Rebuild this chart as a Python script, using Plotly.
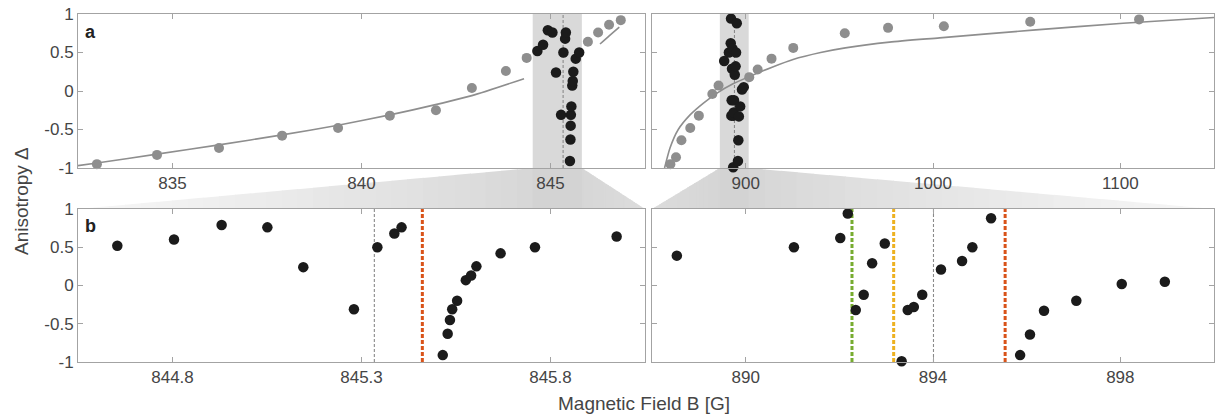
import plotly.graph_objects as go
import numpy as np

# ---------------- data ----------------
# panel a, left: broad scan (grey points) and model curve
scanL_x = [833.0, 834.59, 836.23, 837.9, 839.38, 840.75, 841.97, 842.92, 843.82, 844.37,
           845.99, 846.26, 846.55, 846.86]
scanL_y = [-0.95, -0.83, -0.74, -0.58, -0.48, -0.32, -0.25, 0.04, 0.26, 0.43,
           0.64, 0.76, 0.86, 0.92]
fitL1_x = [832.5, 833.0, 834.59, 836.23, 837.9, 839.38, 840.75, 841.36, 842.92, 844.3]
fitL1_y = [-0.97, -0.935, -0.82, -0.70, -0.57, -0.445, -0.31, -0.245, -0.06, 0.16]
fitL2_x = [846.31, 846.56, 846.82]
fitL2_y = [0.61, 0.72, 0.83]

# panel a, right
scanR_x = [859.8, 862.8, 865.7, 870.4, 875.0, 882.2, 885.5, 901.9, 906.4, 913.8, 925.4,
           952.9, 976.0, 1005.8, 1051.9, 1110.0]
scanR_y = [-0.95, -0.86, -0.64, -0.48, -0.32, -0.04, 0.07, 0.18, 0.28, 0.42, 0.56,
           0.75, 0.82, 0.84, 0.90, 0.93]
fitR_x = [856.7, 859.6, 864.0, 870.3, 877.3, 884.5, 893.0, 902.2, 914.1, 925.3, 940.0,
          953.2, 976.8, 1003.5, 1053.2, 1101.5, 1150.0]
fitR_y = [-1.0, -0.74, -0.50, -0.31, -0.16, -0.03, 0.09, 0.19, 0.31, 0.41, 0.50,
          0.56, 0.635, 0.69, 0.79, 0.88, 0.955]

# panel b, left: fine scan (black points)
fineL_x = [844.654, 844.804, 844.930, 845.051, 845.146, 845.280, 845.342, 845.387, 845.406,
           845.515, 845.528, 845.534, 845.540, 845.553, 845.576, 845.590, 845.604, 845.668,
           845.759, 845.975]
fineL_y = [0.52, 0.60, 0.79, 0.76, 0.24, -0.31, 0.50, 0.68, 0.76,
           -0.91, -0.63, -0.45, -0.31, -0.20, 0.07, 0.13, 0.25, 0.42,
           0.50, 0.64]

# panel b, right
fineR_x = [888.53, 891.03, 892.02, 892.18, 892.35, 892.52, 892.70, 892.97, 893.33, 893.46,
           893.59, 893.77, 894.17, 894.62, 894.84, 895.24, 895.86, 896.07, 896.37, 897.06,
           898.03, 898.95]
fineR_y = [0.39, 0.50, 0.62, 0.94, -0.32, -0.12, 0.29, 0.55, -0.99, -0.32,
           -0.28, -0.12, 0.21, 0.32, 0.50, 0.88, -0.91, -0.64, -0.33, -0.20,
           0.02, 0.05]

# marker lines (field positions)
centerL = 845.334
redL = 845.461
centerR = 894.01
greenR = 892.27
orangeR = 893.16
redR = 895.54

# shaded zoom windows in panel a
shadeL = [844.53, 845.83]
shadeR = [886.2, 901.6]

# axis ranges & ticks
rangeTL = [832.5, 847.5]
rangeTR = [850, 1150]
rangeBL = [844.55, 846.05]
rangeBR = [888, 900]
ticksTL = [835, 840, 845]
ticksTR = [900, 1000, 1100]
ticksBL = [844.8, 845.3, 845.8]
ticksBR = [890, 894, 898]
yticks = [-1, -0.5, 0, 0.5, 1]
ytext = ["-1", "-0.5", "0", "0.5", "1"]

# ---------------- styling ----------------
FONT = "Liberation Sans, Arial, sans-serif"
AXC = "#a3a3a3"
TXT = "#454545"
GREY = "#8e8e8e"
BLACK = "#1b1b1b"

domL = [0.0, 0.4991]
domR = [0.5053, 1.0]
domT = [0.5575, 1.0]
domB = [0.0, 0.4397]

fig = go.Figure()

def pts(x, y, color, size, xa, ya):
    fig.add_trace(go.Scatter(x=x, y=y, mode="markers", xaxis=xa, yaxis=ya,
                             marker=dict(color=color, size=size, line=dict(width=0)),
                             cliponaxis=False, showlegend=False, hoverinfo="skip"))

def curve(x, y, xa, ya):
    fig.add_trace(go.Scatter(x=x, y=y, mode="lines", xaxis=xa, yaxis=ya,
                             line=dict(color=GREY, width=1.6, shape="spline", smoothing=0.6),
                             showlegend=False, hoverinfo="skip"))

# panel a left
curve(fitL1_x, fitL1_y, "x", "y")
curve(fitL2_x, fitL2_y, "x", "y")
pts(scanL_x, scanL_y, GREY, 10, "x", "y")
inL = [(a, b) for a, b in zip(fineL_x, fineL_y) if shadeL[0] <= a <= shadeL[1]]
pts([a for a, _ in inL], [b for _, b in inL], BLACK, 10.5, "x", "y")

# panel a right
curve(fitR_x, fitR_y, "x2", "y2")
pts(scanR_x, scanR_y, GREY, 10, "x2", "y2")
pts(fineR_x, fineR_y, BLACK, 10.5, "x2", "y2")

# panel b
pts(fineL_x, fineL_y, BLACK, 10.5, "x3", "y3")
pts(fineR_x, fineR_y, BLACK, 10.5, "x4", "y4")

shapes = []
def vline(x, xref, yref, color, width, dash):
    shapes.append(dict(type="line", xref=xref, yref=yref, x0=x, x1=x, y0=0, y1=1,
                       line=dict(color=color, width=width, dash=dash), layer="below"))

def shade(rng, xref, yref):
    shapes.append(dict(type="rect", xref=xref, yref=yref, x0=rng[0], x1=rng[1], y0=0, y1=1,
                       fillcolor="#d9d9d9", line=dict(width=0), layer="below"))

shade(shadeL, "x", "y domain")
shade(shadeR, "x2", "y domain")
vline(centerL, "x", "y domain", "#8a8a8a", 1.1, "3px,2px")
vline(centerR, "x2", "y domain", "#8a8a8a", 1.1, "3px,2px")
vline(centerL, "x3", "y3 domain", "#8a8a8a", 1.1, "3px,2px")
vline(redL, "x3", "y3 domain", "#d95319", 3, "4px,2px")
vline(greenR, "x4", "y4 domain", "#77ac30", 3, "4px,2px")
vline(orangeR, "x4", "y4 domain", "#edb120", 3, "4px,2px")
vline(centerR, "x4", "y4 domain", "#8a8a8a", 1.1, "3px,2px")
vline(redR, "x4", "y4 domain", "#d95319", 3, "4px,2px")

# zoom funnels (gradient approximated by vertical slices)
def lerp_col(c0, c1, t):
    a = [int(c0[i:i + 2], 16) for i in (1, 3, 5)]
    b = [int(c1[i:i + 2], 16) for i in (1, 3, 5)]
    return "rgb(%d,%d,%d)" % tuple(round(a[k] + (b[k] - a[k]) * t) for k in range(3))

def funnel(rng, xr, xdom):
    span = xdom[1] - xdom[0]
    xa = xdom[0] + (rng[0] - xr[0]) / (xr[1] - xr[0]) * span
    xb = xdom[0] + (rng[1] - xr[0]) / (xr[1] - xr[0]) * span
    yt, yb = domT[0], domB[1]
    XA, XB = xdom
    xc = (xa + xb) / 2
    dmax = max(xc - XA, XB - xc)

    def ytop(x):
        if x < xa:
            return yt + (xa - x) / (xa - XA) * (yb - yt)
        if x > xb:
            return yt + (x - xb) / (XB - xb) * (yb - yt)
        return yt

    edges = sorted(set(list(np.linspace(XA, xa, 30)) + [xa, xb] + list(np.linspace(xb, XB, 30))))
    for u, v in zip(edges[:-1], edges[1:]):
        if v - u < 1e-6:
            continue
        m = (u + v) / 2
        t = min(1.0, abs(m - xc) / dmax) ** 0.8
        col = lerp_col("#d3d3d3", "#f7f7f7", t)
        v2 = min(v + 0.0008, XB)
        path = "M %f,%f L %f,%f L %f,%f L %f,%f Z" % (u, yb, v2, yb, v2, ytop(v2), u, ytop(u))
        shapes.append(dict(type="path", xref="paper", yref="paper", path=path,
                           fillcolor=col, line=dict(width=0), layer="below"))

funnel(shadeL, rangeTL, domL)
funnel(shadeR, rangeTR, domR)

fig.update_layout(shapes=shapes)

def xax(dom, rng, tv, anchor):
    return dict(domain=dom, range=rng, anchor=anchor, tickvals=tv,
                ticktext=[("%g" % v) for v in tv], showline=True, mirror="ticks",
                linecolor=AXC, linewidth=1, ticks="inside", ticklen=5, tickcolor=AXC,
                showgrid=False, zeroline=False,
                tickfont=dict(family=FONT, size=17, color=TXT))

def yax(dom, anchor, labels):
    return dict(domain=dom, range=[-1, 1], anchor=anchor, tickvals=yticks, ticktext=ytext,
                showticklabels=labels, showline=True, mirror="ticks",
                linecolor=AXC, linewidth=1, ticks="inside", ticklen=5, tickcolor=AXC,
                showgrid=False, zeroline=False,
                tickfont=dict(family=FONT, size=17, color=TXT))

def note(text, x, y, size, color, angle=0):
    return dict(text=text, xref="paper", yref="paper", x=x, y=y, xanchor="center",
                yanchor="middle", textangle=angle, showarrow=False,
                font=dict(family=FONT, size=size, color=color))

fig.update_layout(
    width=1215, height=417,
    margin=dict(l=78, r=1, t=14, b=55),
    paper_bgcolor="white", plot_bgcolor="white",
    xaxis=xax(domL, rangeTL, ticksTL, "y"),
    yaxis=yax(domT, "x", True),
    xaxis2=xax(domR, rangeTR, ticksTR, "y2"),
    yaxis2=yax(domT, "x2", False),
    xaxis3=xax(domL, rangeBL, ticksBL, "y3"),
    yaxis3=yax(domB, "x3", True),
    xaxis4=xax(domR, rangeBR, ticksBR, "y4"),
    yaxis4=yax(domB, "x4", False),
    showlegend=False,
    annotations=[
        note("<b>a</b>", 0.0114, 0.948, 18, "#222222"),
        note("<b>b</b>", 0.0114, 0.391, 18, "#222222"),
        note("Anisotropy Δ", -0.0502, 0.4626, 19, TXT, -90),
        note("Magnetic Field B [G]", 0.498, -0.118, 19, TXT),
    ],
)

fig.write_html("out.html", config={"displayModeBar": False},
               post_script="document.body.style.margin='0';")
